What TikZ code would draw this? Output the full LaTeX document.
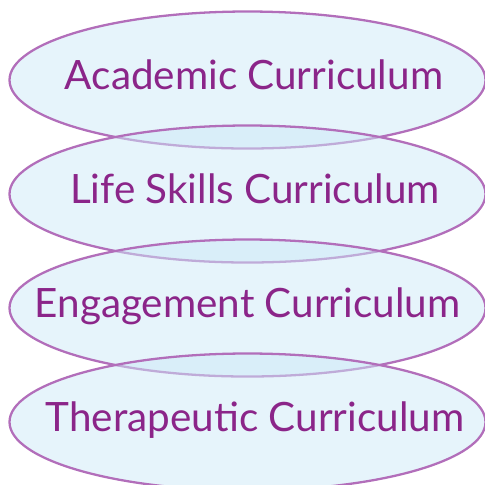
\documentclass[tikz,border=0pt]{standalone}
\usepackage{fontspec}
\setmainfont{Lato}
\usetikzlibrary{shapes.geometric}
\definecolor{ovalfill}{HTML}{CDE9F7}
\definecolor{ovalline}{HTML}{B26EBA}
\definecolor{ovaltext}{HTML}{8B2589}

\begin{document}
\begin{tikzpicture}
	\tikzset{oval/.style = {shape=ellipse,draw=ovalline,line width=0.65pt,fill=ovalfill,fill opacity=0.5,draw opacity=1,minimum width=4.76cm,minimum height=1.37cm,inner sep=0pt}}
	\tikzset{caption/.style = {text=ovaltext,font=\fontsize{11.5}{14}\selectfont,text height=8.8pt,text depth=3.4pt,inner sep=0pt}}
	\useasboundingbox (0,0) rectangle (4.85,-4.84);
	\node[oval] (0) at (2.475,-0.80) {};
	\node[oval] (1) at (2.475,-1.94) {};
	\node[oval] (2) at (2.475,-3.08) {};
	\node[oval] (3) at (2.475,-4.22) {};
	%texts
	\node[caption] (t0) at (2.54,-0.80) {Academic Curriculum};
	\node[caption] (t1) at (2.55,-1.94) {Life Skills Curriculum};
	\node[caption] (t2) at (2.475,-3.08) {Engagement Curriculum};
	\node[caption] (t3) at (2.55,-4.22) {Therapeutic Curriculum};
\end{tikzpicture}
\end{document}
